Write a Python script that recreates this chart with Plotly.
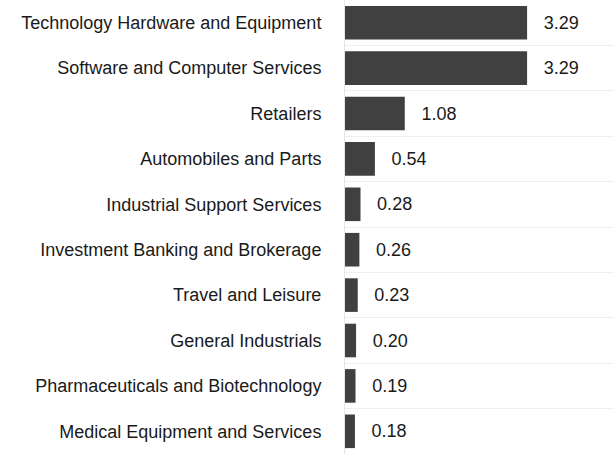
import plotly.graph_objects as go

categories = [
    "Technology Hardware and Equipment",
    "Software and Computer Services",
    "Retailers",
    "Automobiles and Parts",
    "Industrial Support Services",
    "Investment Banking and Brokerage",
    "Travel and Leisure",
    "General Industrials",
    "Pharmaceuticals and Biotechnology",
    "Medical Equipment and Services",
]
values = [3.29, 3.29, 1.08, 0.54, 0.28, 0.26, 0.23, 0.20, 0.19, 0.18]

FONT = "Liberation Sans"

fig = go.Figure(
    go.Bar(
        x=values,
        y=categories,
        orientation="h",
        marker=dict(color="#404040", line=dict(width=0)),
        width=0.74,
        texttemplate="\u00a0\u00a0\u2009%{x:.2f}",
        textposition="outside",
        textfont=dict(family=FONT, size=18, color="#1a1a1a"),
        cliponaxis=False,
    )
)

fig.update_layout(
    width=614,
    height=454,
    margin=dict(l=345, r=0, t=0, b=0),
    paper_bgcolor="white",
    plot_bgcolor="white",
    showlegend=False,
    font=dict(family=FONT, size=18, color="#1a1a1a"),
)
fig.update_xaxes(
    range=[0, 4.86],
    showgrid=False,
    zeroline=False,
    showticklabels=False,
    showline=False,
)
fig.update_yaxes(
    autorange="reversed",
    tickson="boundaries",
    showgrid=True,
    gridcolor="#efefef",
    gridwidth=1,
    showline=True,
    linecolor="#e6e6e6",
    linewidth=1,
    ticks="",
    ticklabelstandoff=19,
    tickfont=dict(family=FONT, size=18, color="#1a1a1a"),
)

fig.write_html("out.html")
